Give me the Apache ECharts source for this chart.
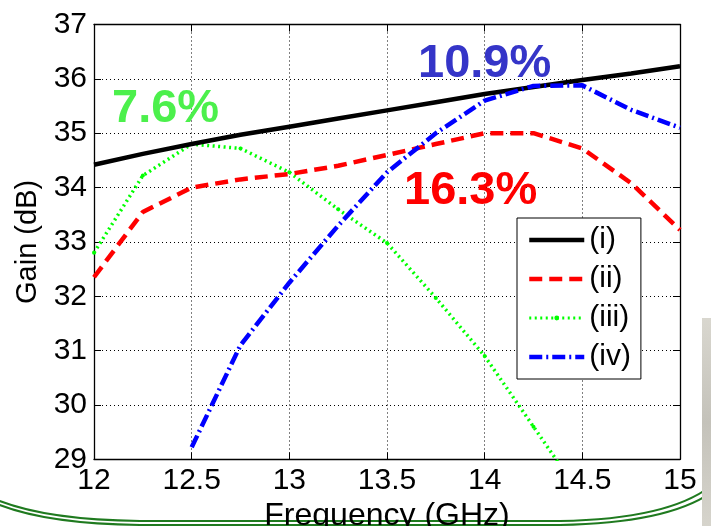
<!DOCTYPE html>
<html>
<head>
<meta charset="utf-8">
<script src="https://cdn.jsdelivr.net/npm/echarts@6/dist/echarts.min.js"></script>
<style>
  html, body { margin: 0; padding: 0; background: #fff; }
  #chart { width: 711px; height: 526px; }
</style>
</head>
<body>
<div id="chart"></div>
<script>
// Frequency sweep (GHz) and gain curves (dB) for the four amplifier cases
const freqGHz = [12, 12.25, 12.5, 12.75, 13, 13.25, 13.5, 13.75, 14, 14.25, 14.5, 14.75, 15];
const gainI   = [34.42, 34.62, 34.8, 34.97, 35.12, 35.27, 35.42, 35.57, 35.72, 35.85, 35.98, 36.1, 36.23];
const gainII  = [32.35, 33.55, 34.0, 34.15, 34.25, 34.4, 34.6, 34.8, 35.0, 35.0, 34.72, 34.08, 33.22];
const gainIII = [32.8, 34.22, 34.8, 34.72, 34.28, 33.6, 32.98, 31.97, 30.9, 29.6, 28.3, null, null];
const gainIV  = [null, null, 29.22, 31.1, 32.25, 33.3, 34.28, 35.0, 35.6, 35.87, 35.88, 35.43, 35.1];

const seriesNames = ['(i)', '(ii)', '(iii)', '(iv)'];
const xTicks = [12, 12.5, 13, 13.5, 14, 14.5, 15];
const yTicks = [29, 30, 31, 32, 33, 34, 35, 36, 37];

// Bandwidth annotations
const bwLabels = ['7.6%', '10.9%', '16.3%'];

const pairs = arr => freqGHz.map((f, i) => [f, arr[i]]);

const FONT = '"Liberation Sans", Arial, sans-serif';
const tickStyle = { show: true, inside: true, length: 7, lineStyle: { color: '#000', width: 1 } };
const frame = { show: true, onZero: false, lineStyle: { color: '#000', width: 1.3 } };
const grid = { show: true, lineStyle: { color: '#000', width: 1, type: [1, 3] } };

// Double green rule of the slide frame along the lower edge
const GREEN = '#1f7a1f';
function frameRule(dy) {
  const st = { fill: 'none', stroke: GREEN, lineWidth: 2 };
  return [
    { type: 'bezierCurve', z: 0, silent: true,
      shape: { x1: -10, y1: 497 + dy, cpx1: 40, cpy1: 520 + dy, x2: 140, y2: 521 + dy }, style: st },
    { type: 'line', z: 0, silent: true,
      shape: { x1: 140, y1: 521 + dy, x2: 560, y2: 521 + dy }, style: st },
    { type: 'bezierCurve', z: 0, silent: true,
      shape: { x1: 560, y1: 521 + dy, cpx1: 680 + dy, cpy1: 519 + dy, x2: 720 + dy, y2: 478 + dy }, style: st }
  ];
}

// Legend entries: only (iii) shows its point marker
const legendData = seriesNames.map((name, i) => ({
  name,
  itemStyle: i === 2 ? { opacity: 1 } : { opacity: 0 },
  lineStyle: { width: i === 2 ? 3 : 4.5 }
}));

const chart = echarts.init(document.getElementById('chart'), null, { renderer: 'canvas' });

chart.setOption({
  backgroundColor: '#fff',
  animation: false,
  grid: { left: 94, right: 31, top: 24.5, bottom: 66.7, containLabel: false, outerBoundsMode: 'none' },
  xAxis: [
    {
      type: 'value', min: 12, max: 15, interval: 0.5,
      axisLine: frame, axisTick: tickStyle, splitLine: grid,
      axisLabel: { color: '#000', fontSize: 30, fontFamily: FONT, margin: 6,
                   formatter: v => xTicks.includes(v) ? String(v) : '' },
      name: 'Frequency (GHz)', nameLocation: 'middle', nameGap: 38,
      nameTextStyle: { color: '#000', fontSize: 32, fontFamily: FONT }
    },
    {
      type: 'value', position: 'top', min: 12, max: 15, interval: 0.5,
      axisLine: frame, axisTick: tickStyle, splitLine: { show: false }, axisLabel: { show: false }
    }
  ],
  yAxis: [
    {
      type: 'value', min: 29, max: 37, interval: 1,
      axisLine: frame, axisTick: tickStyle, splitLine: grid,
      axisLabel: { color: '#000', fontSize: 30, fontFamily: FONT, margin: 7,
                   formatter: v => yTicks.includes(v) ? String(v) : '' },
      name: 'Gain (dB)', nameLocation: 'middle', nameGap: 47, nameRotate: 90,
      nameTextStyle: { color: '#000', fontSize: 29, fontFamily: FONT }
    },
    {
      type: 'value', position: 'right', min: 29, max: 37, interval: 1,
      axisLine: frame, axisTick: tickStyle, splitLine: { show: false }, axisLabel: { show: false }
    }
  ],
  legend: {
    orient: 'vertical', left: 517, top: 218,
    backgroundColor: '#fff', borderColor: '#000', borderWidth: 1, borderRadius: 0,
    padding: [7, 10, 7, 10], itemGap: 9, itemWidth: 55, itemHeight: 6,
    textStyle: { color: '#000', fontSize: 30, fontFamily: FONT, lineHeight: 30 },
    data: legendData
  },
  series: [
    {
      name: seriesNames[0], type: 'line', data: pairs(gainI), symbol: 'none', clip: true, z: 5,
      lineStyle: { color: '#000', width: 4.5 }, itemStyle: { color: '#000' }
    },
    {
      name: seriesNames[1], type: 'line', data: pairs(gainII), symbol: 'none', clip: true, z: 4,
      lineStyle: { color: '#ff0000', width: 4.5, type: [13, 7] }, itemStyle: { color: '#ff0000' }
    },
    {
      name: seriesNames[2], type: 'line', data: pairs(gainIII), symbol: 'circle', symbolSize: 4,
      clip: true, z: 3, connectNulls: false,
      lineStyle: { color: '#00ff00', width: 3.5, type: [2, 3.5] }, itemStyle: { color: '#00ff00' }
    },
    {
      name: seriesNames[3], type: 'line', data: pairs(gainIV), symbol: 'none', clip: true, z: 6,
      lineStyle: { color: '#0000ff', width: 4.5, type: [13, 4, 2, 4] }, itemStyle: { color: '#0000ff' }
    }
  ],
  graphic: [
    ...frameRule(0),
    ...frameRule(4),
    {
      type: 'rect', z: 0, silent: true,
      shape: { x: 702, y: 318, width: 9, height: 208 },
      style: {
        fill: {
          type: 'linear', x: 0, y: 0, x2: 0, y2: 1,
          colorStops: [
            { offset: 0, color: '#d9d7cf' }, { offset: 0.5, color: '#c4c2ba' }, { offset: 1, color: '#d6d4cc' }
          ]
        }
      }
    },
    // bandwidth annotations
    {
      type: 'text', z: 100, left: 112, top: 86,
      style: { text: bwLabels[0], fill: '#4cf04c', font: 'bold 47px ' + FONT }
    },
    {
      type: 'text', z: 100, left: 418, top: 41,
      style: { text: bwLabels[1], fill: '#3535c8', font: 'bold 47px ' + FONT }
    },
    {
      type: 'text', z: 100, left: 404, top: 168,
      style: { text: bwLabels[2], fill: '#ff0000', font: 'bold 47px ' + FONT }
    }
  ]
});
</script>
</body>
</html>
